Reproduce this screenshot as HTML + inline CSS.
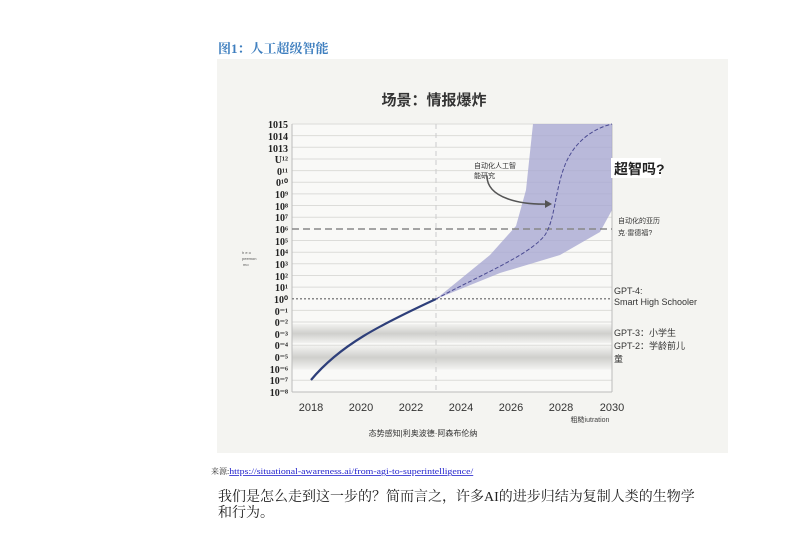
<!DOCTYPE html>
<html><head><meta charset="utf-8"><style>
body{margin:0;background:#fff;width:800px;height:534px;overflow:hidden;font-family:"Liberation Sans","Noto Sans CJK SC",sans-serif}
</style></head><body>
<svg width="800" height="534" viewBox="0 0 800 534" xmlns="http://www.w3.org/2000/svg" style="position:absolute;left:0;top:0">
<defs>
<linearGradient id="gb" x1="0" y1="0" x2="0" y2="1">
<stop offset="0" stop-color="#f2f2f0"/><stop offset="0.5" stop-color="#cfcfcc"/><stop offset="1" stop-color="#f2f2f0"/>
</linearGradient>
</defs>
<text x="218" y="53" font-family="Liberation Serif,Noto Serif CJK SC,serif" font-size="13" font-weight="bold" fill="#3f7fbf">图1：人工超级智能</text>
<rect x="217" y="59" width="511" height="394" fill="#f4f4f1"/>
<text x="434" y="105" font-size="15" font-weight="bold" fill="#333" text-anchor="middle" font-family="Liberation Sans,Noto Sans CJK SC,sans-serif">场景：情报爆炸</text>
<rect x="292" y="124" width="320" height="268" fill="#f9f9f7"/>
<g stroke="#dcdcd9" stroke-width="1">
<line x1="292" x2="612" y1="124" y2="124"/><line x1="292" x2="612" y1="135.6" y2="135.6"/><line x1="292" x2="612" y1="147.3" y2="147.3"/><line x1="292" x2="612" y1="159" y2="159"/><line x1="292" x2="612" y1="170.6" y2="170.6"/><line x1="292" x2="612" y1="182.2" y2="182.2"/><line x1="292" x2="612" y1="193.9" y2="193.9"/><line x1="292" x2="612" y1="205.5" y2="205.5"/><line x1="292" x2="612" y1="217.2" y2="217.2"/><line x1="292" x2="612" y1="240.5" y2="240.5"/><line x1="292" x2="612" y1="252.2" y2="252.2"/><line x1="292" x2="612" y1="263.8" y2="263.8"/><line x1="292" x2="612" y1="275.5" y2="275.5"/><line x1="292" x2="612" y1="287.1" y2="287.1"/><line x1="292" x2="612" y1="310.4" y2="310.4"/><line x1="292" x2="612" y1="322" y2="322"/><line x1="292" x2="612" y1="333.7" y2="333.7"/><line x1="292" x2="612" y1="345.3" y2="345.3"/><line x1="292" x2="612" y1="357" y2="357"/><line x1="292" x2="612" y1="368.6" y2="368.6"/><line x1="292" x2="612" y1="380.3" y2="380.3"/>
</g>
<rect x="292" y="324" width="320" height="19" fill="url(#gb)"/>
<rect x="292" y="346" width="320" height="23" fill="url(#gb)"/>
<line x1="292" x2="292" y1="124" y2="392" stroke="#bbb"/>
<line x1="612" x2="612" y1="124" y2="392" stroke="#bbb"/>
<line x1="292" x2="612" y1="392" y2="392" stroke="#bbb"/>
<line x1="436" x2="436" y1="124" y2="392" stroke="#ccc" stroke-dasharray="5,4"/>
<path d="M436,299 L490,255 L516,226 L526,190 L533,124 L612,124 L612,210 L600,232 L560,255 L500,273 Z" fill="#a9a9d2" fill-opacity="0.8"/>
<line x1="292" x2="612" y1="229" y2="229" stroke="#888" stroke-width="1.5" stroke-dasharray="7,4"/>
<line x1="292" x2="612" y1="298.8" y2="298.8" stroke="#888" stroke-width="1.5" stroke-dasharray="2,2"/>
<path d="M311,380 C340,345 380,325 436,299" fill="none" stroke="#2e3f7a" stroke-width="2.2"/>
<path d="M436,299 C480,275 530,255 545,235 C555,220 555,190 565,165 C575,140 595,128 612,124" fill="none" stroke="#4b4b92" stroke-width="1" stroke-dasharray="4,2"/>
<path d="M487,176 C487,198 520,205 550,204" fill="none" stroke="#555" stroke-width="1.5"/>
<path d="M545,200 L552,204 L545,208 Z" fill="#555"/>
<g font-size="7" fill="#333" font-family="Liberation Sans,Noto Sans CJK SC,sans-serif">
<text x="474" y="168">自动化人工智</text><text x="474" y="178">能研究</text>
<text x="618" y="223">自动化的亚历</text><text x="618" y="235">克·雷德福?</text>
</g>
<rect x="611" y="158" width="50" height="20" fill="#fff"/>
<text x="614" y="174" font-size="14" font-weight="bold" fill="#222" font-family="Liberation Sans,Noto Sans CJK SC,sans-serif">超智吗?</text>
<g font-size="9" fill="#333" font-family="Liberation Sans,Noto Sans CJK SC,sans-serif">
<text x="614" y="294">GPT-4:</text><text x="614" y="305">Smart High Schooler</text>
<text x="614" y="336">GPT-3：小学生</text><text x="614" y="349">GPT-2：学龄前儿</text><text x="614" y="362">童</text>
</g>
<g font-size="10" font-weight="bold" fill="#222" text-anchor="end" font-family="Liberation Serif,serif">
<text x="288" y="128">1015</text><text x="288" y="140">1014</text><text x="288" y="152">1013</text>
<text x="288" y="163">U¹²</text><text x="288" y="175">0¹¹</text><text x="288" y="186">0¹⁰</text>
<text x="288" y="198">10⁹</text><text x="288" y="210">10⁸</text><text x="288" y="221">10⁷</text><text x="288" y="233">10⁶</text><text x="288" y="245">10⁵</text><text x="288" y="256">10⁴</text><text x="288" y="268">10³</text><text x="288" y="280">10²</text><text x="288" y="291">10¹</text><text x="288" y="303">10⁰</text><text x="288" y="315">0⁻¹</text><text x="288" y="326">0⁻²</text><text x="288" y="338">0⁻³</text><text x="288" y="349">0⁻⁴</text><text x="288" y="361">0⁻⁵</text><text x="288" y="373">10⁻⁶</text><text x="288" y="384">10⁻⁷</text><text x="288" y="396">10⁻⁸</text>
</g>
<g font-size="4" fill="#555"><text x="242" y="254">h e o</text><text x="242" y="260">peemon</text><text x="243" y="266">mo</text></g>
<g font-size="11" fill="#333" text-anchor="middle" font-family="Liberation Sans,sans-serif">
<text x="311" y="411">2018</text><text x="361" y="411">2020</text><text x="411" y="411">2022</text><text x="461" y="411">2024</text><text x="511" y="411">2026</text><text x="561" y="411">2028</text><text x="612" y="411">2030</text>
</g>
<text x="590" y="422" font-size="7" fill="#444" text-anchor="middle" font-family="Liberation Sans,Noto Sans CJK SC,sans-serif">粗糙iutration</text>
<text x="423" y="436" font-size="8" fill="#333" text-anchor="middle" font-family="Liberation Sans,Noto Sans CJK SC,sans-serif">态势感知|利奥波德·阿森布伦纳</text>
<text x="211" y="474" font-size="8" fill="#333" font-family="Liberation Serif,Noto Serif CJK SC,serif">来源:<tspan fill="#2222cc" text-decoration="underline" textLength="244" lengthAdjust="spacingAndGlyphs">https://situational-awareness.ai/from-agi-to-superintelligence/</tspan></text>
<g font-size="14" fill="#222" font-family="Liberation Serif,Noto Serif CJK SC,serif">
<text x="218" y="501">我们是怎么走到这一步的？简而言之，许多AI的进步归结为复制人类的生物学</text>
<text x="218" y="517">和行为。</text>
</g>
</svg>
</body></html>
